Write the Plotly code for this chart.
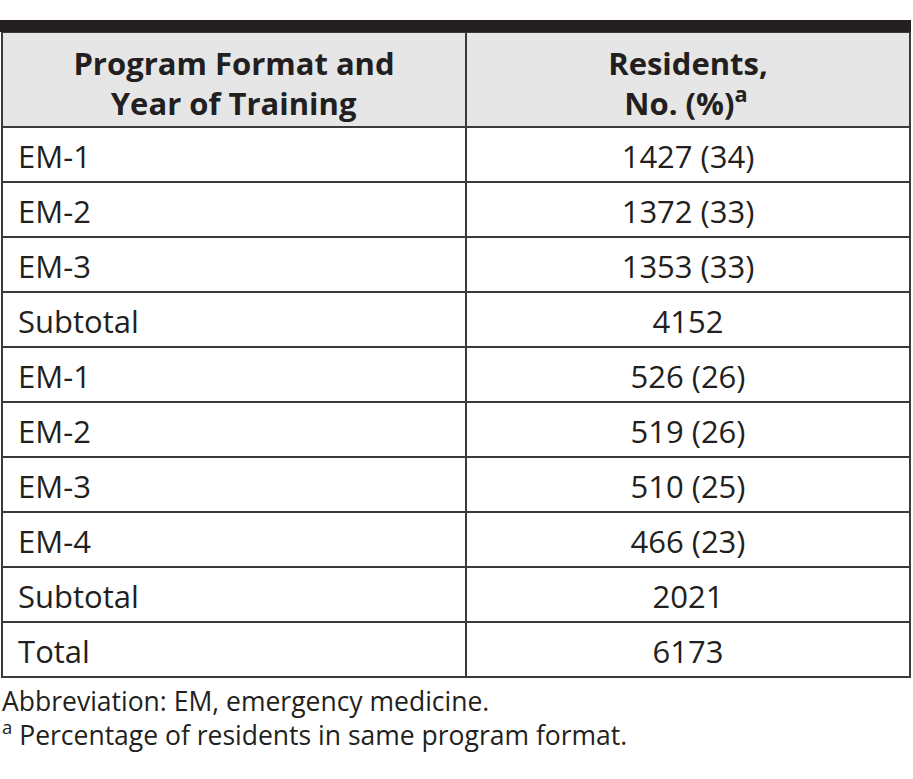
import plotly.graph_objects as go

NB = "\u00a0"
header_labels = ["<b>Program Format and<br>" + NB * 4 + "\u2009Year of Training</b>",
                 "<b>Residents,<br>" + NB * 2 + "No. (%)<sup>a</sup></b>"]
row_labels = ["EM-1", "EM-2", "EM-3", "Subtotal", "EM-1", "EM-2", "EM-3", "EM-4", "Subtotal", "Total"]
residents = ["1427 (34)", "1372 (33)", "1353 (33)", "4152", "526 (26)", "519 (26)", "510 (25)", "466 (23)", "2021", "6173"]
footnotes = ["Abbreviation: EM, emergency medicine.", "<sup>a</sup> Percentage of residents in same program format."]

W, H = 913, 779
FONT = "Open Sans"
TXT = "#231f20"
LINE = "#3a3a3a"
CLEAR = "rgba(0,0,0,0)"
X0, X1 = 2, 910
COLW = [464, 444]
TOP = 32
HEAD_H = 95
ROW_H = 55

# grid / fills table (no text)
fig = go.Figure(go.Table(
    columnwidth=COLW,
    domain=dict(x=[X0 / W, X1 / W], y=[0, 1 - TOP / H]),
    header=dict(values=["", ""], fill_color="#e6e6e6",
                line=dict(color=LINE, width=2), height=HEAD_H),
    cells=dict(values=[[""] * len(row_labels), [""] * len(residents)],
               fill_color="white", line=dict(color=LINE, width=2), height=ROW_H),
))

# header text
fig.add_trace(go.Table(
    columnwidth=COLW,
    domain=dict(x=[X0 / W, X1 / W], y=[0, 1 - (TOP + 2) / H]),
    header=dict(values=header_labels, fill_color=CLEAR, line=dict(color=CLEAR, width=0),
                align="center", height=HEAD_H - 4,
                font=dict(family=FONT, size=31, color=TXT)),
    cells=dict(values=[[], []], fill_color=CLEAR, line=dict(color=CLEAR, width=0)),
))

# body text, shifted down so it sits centred in each row
DUMMY_H = 20
fig.add_trace(go.Table(
    columnwidth=COLW,
    domain=dict(x=[X0 / W, X1 / W], y=[0, 1 - (TOP + HEAD_H + 10 - DUMMY_H) / H]),
    header=dict(values=["", ""], fill_color=CLEAR, line=dict(color=CLEAR, width=0),
                height=DUMMY_H),
    cells=dict(values=[row_labels, residents], prefix=[NB, ""],
               fill_color=CLEAR, line=dict(color=CLEAR, width=0),
               align=["left", "center"], height=ROW_H,
               font=dict(family=FONT, size=31, color=TXT)),
))

fig.add_shape(type="rect", xref="paper", yref="paper",
              x0=0, x1=911 / W, y0=1 - 32 / H, y1=1 - 20 / H,
              fillcolor="#231f20", line=dict(width=0), layer="above")

fig.add_annotation(text="<br>".join(footnotes), xref="paper", yref="paper", x=0, y=1 - 718 / H,
                   xanchor="left", yanchor="middle", align="left", showarrow=False,
                   font=dict(family=FONT, size=26.5, color=TXT))

fig.update_layout(width=W, height=H, margin=dict(l=0, r=0, t=0, b=0),
                  paper_bgcolor="white", plot_bgcolor="white")
fig.write_html("out.html", config=dict(displayModeBar=False),
               post_script="document.body.style.margin='0';document.body.style.overflow='hidden';")
